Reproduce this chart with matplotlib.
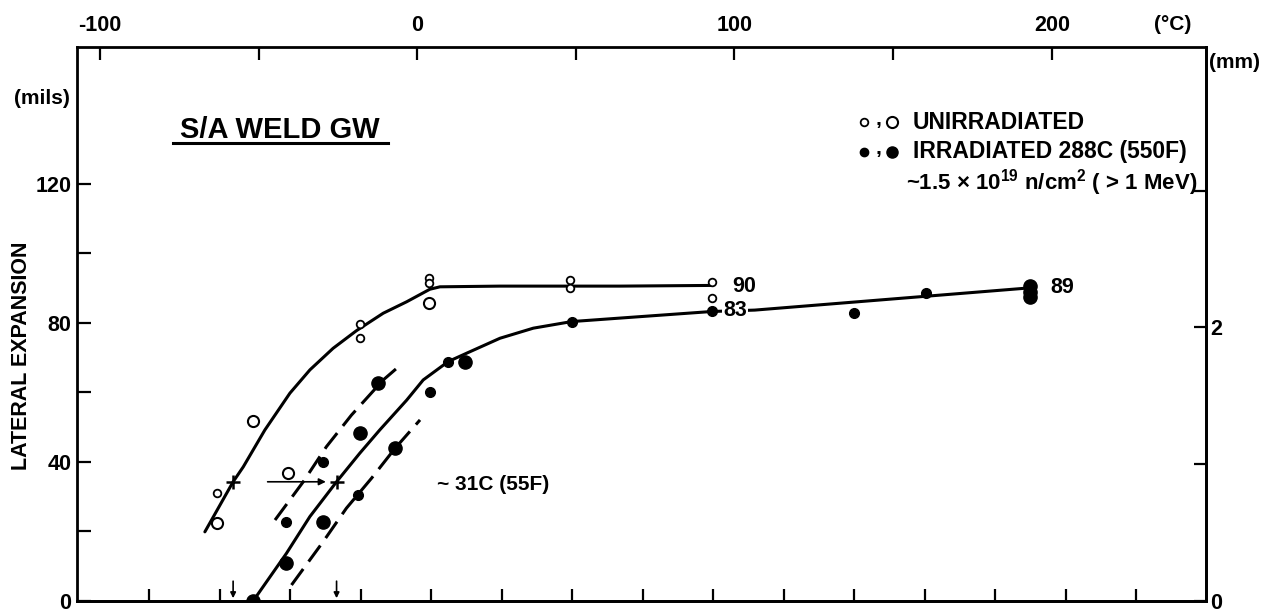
import matplotlib
matplotlib.use('Agg')
import matplotlib.pyplot as plt
import numpy as np

plt.rcParams['font.family'] = ['Liberation Sans', 'DejaVu Sans']
plt.rcParams['font.weight'] = 'bold'
plt.rcParams['mathtext.fontset'] = 'custom'
plt.rcParams['mathtext.rm'] = 'Liberation Sans:bold'
plt.rcParams['mathtext.default'] = 'rm'

# unirradiated data (temperature C, lateral expansion mils)
unirr_small_t = [-63.2, -18.1, -18.1, 3.8, 3.8, 48.3, 48.3, 92.9, 92.9]
unirr_small_v = [31.2, 79.6, 75.8, 92.9, 91.4, 92.4, 90.0, 91.8, 87.2]
unirr_large_t = [-63.2, -51.7, -40.7, 3.8]
unirr_large_v = [22.4, 51.9, 36.7, 85.7]

# irradiated data
irr_small_t = [-41.2, -29.6, -18.6, 4.2, 9.8, 48.7, 92.9, 137.6, 160.3]
irr_small_v = [22.8, 40.1, 30.5, 60.2, 68.9, 80.4, 83.5, 83.0, 88.5]
irr_large_t = [-51.7, -41.2, -29.6, -18.1, -12.3, -7.0, 15.0, 193.1, 193.1, 193.1]
irr_large_v = [0.1, 10.8, 22.8, 48.3, 62.6, 43.9, 68.9, 90.5, 89.0, 87.6]

# fitted curves
unirr_curve_t = [-66.9, -58.0, -54.8, -48.0, -40.1, -33.8, -26.5, -19.1, -10.7, -3.3,
                 4.0, 7.2, 26.1, 63.9, 92.9]
unirr_curve_v = [19.9, 34.3, 38.6, 49.2, 59.8, 66.5, 72.7, 77.8, 82.8, 86.1,
                 89.7, 90.4, 90.6, 90.6, 90.8]
irr_curve_t = [-51.7, -41.2, -33.8, -25.4, -18.1, -11.8, -3.3, 1.9, 9.8, 15.6, 26.1,
               36.6, 48.7, 63.9, 92.9, 106.4, 193.1]
irr_curve_v = [0.0, 13.7, 24.3, 34.3, 42.5, 49.2, 57.8, 63.6, 68.9, 71.3, 75.6,
               78.5, 80.4, 81.4, 83.3, 83.7, 90.1]

# scatter band (dashed)
band_upper_t = [-44.8, -35.9, -28.6, -20.7, -10.7, -6.0]
band_upper_v = [23.3, 34.3, 44.4, 53.5, 63.6, 67.3]
band_lower_t = [-39.6, -29.6, -22.3, -14.4, -7.0, 0.9]
band_lower_v = [4.6, 17.1, 26.7, 35.3, 43.9, 52.1]

# 35 mil transition temperatures
trans_t = [-58.0, -25.4]
trans_v = [34.3, 34.3]

# upper shelf labels
shelf_t = [103.0, 100.1, 203.3]
shelf_v = [90.4, 83.5, 90.1]
shelf_labels = ['90', '83', '89']

fig = plt.figure(figsize=(12.8, 6.14), dpi=100)
ax = fig.add_axes([77 / 1280, 1 - 601 / 614, (1206 - 77) / 1280, (601 - 47) / 614])
ax.set_xlim(-107.2, 248.6)
ax.set_ylim(0, 159.4)

# curves
ax.plot(unirr_curve_t, unirr_curve_v, color='k', lw=2.2, solid_joinstyle='round', solid_capstyle='round')
ax.plot(irr_curve_t, irr_curve_v, color='k', lw=2.2, solid_joinstyle='round', solid_capstyle='round')
ax.plot(band_upper_t, band_upper_v, color='k', lw=2.2, dashes=(6.5, 3))
ax.plot(band_lower_t, band_lower_v, color='k', lw=2.2, dashes=(6.5, 3))

# points
ax.plot(unirr_small_t, unirr_small_v, 'o', ms=5.5, mfc='white', mec='k', mew=1.3, zorder=5)
ax.plot(unirr_large_t, unirr_large_v, 'o', ms=8, mfc='white', mec='k', mew=1.5, zorder=5)
ax.plot(irr_small_t, irr_small_v, 'o', ms=7, color='k', zorder=5)
ax.plot(irr_large_t, irr_large_v, 'o', ms=9.5, color='k', zorder=5)
ax.plot(trans_t, trans_v, '+', ms=10, mew=1.8, color='k', zorder=6)

# shift arrow and transition markers
ax.annotate('', xy=(trans_t[1] - 2.5, trans_v[1]), xytext=(-48.0, trans_v[1]),
            arrowprops=dict(arrowstyle='-|>', lw=1.2, color='k', mutation_scale=10))
for t in trans_t:
    ax.annotate('', xy=(t, 0), xytext=(t, 6.5),
                arrowprops=dict(arrowstyle='-|>', lw=1.2, color='k', mutation_scale=8))
ax.text(6.2, 33.4, '~ 31C (55F)', fontsize=15, va='center', ha='left')

for t, v, s in zip(shelf_t, shelf_v, shelf_labels):
    ax.text(t, v, s, fontsize=15.5, ha='center', va='center', zorder=7,
            bbox=dict(facecolor='white', edgecolor='none', pad=1))

# title
ax.text(0.180, 0.850, 'S/A WELD GW', transform=ax.transAxes, fontsize=21,
        ha='center', va='center')
ax.plot([0.085, 0.2755], [0.8267, 0.8267], color='k', lw=2.2, transform=ax.transAxes)

# legend
ax.plot([0.697], [0.8646], 'o', ms=5.5, mfc='white', mec='k', mew=1.3, transform=ax.transAxes, clip_on=False)
ax.plot([0.722], [0.8646], 'o', ms=8, mfc='white', mec='k', mew=1.5, transform=ax.transAxes, clip_on=False)
ax.plot([0.697], [0.8105], 'o', ms=6, color='k', transform=ax.transAxes, clip_on=False)
ax.plot([0.722], [0.8105], 'o', ms=8, color='k', transform=ax.transAxes, clip_on=False)
ax.text(0.7095, 0.8592, ',', transform=ax.transAxes, fontsize=15, ha='center', va='baseline')
ax.text(0.7095, 0.8070, ',', transform=ax.transAxes, fontsize=15, ha='center', va='baseline')
ax.text(0.7405, 0.8646, 'UNIRRADIATED', transform=ax.transAxes, fontsize=16.5, va='center')
ax.text(0.7405, 0.8105, 'IRRADIATED 288C (550F)', transform=ax.transAxes, fontsize=16.5, va='center')
ax.text(0.992, 0.7545, r'~1.5 × 10$^{19}$ n/cm$^{2}$ ( > 1 MeV)', transform=ax.transAxes,
        fontsize=16, va='center', ha='right')

# top axis: temperature C
ax.xaxis.tick_top()
ax.set_xticks([-100, -50, 0, 50, 100, 150, 200])
ax.set_xticklabels(['-100', '', '0', '', '100', '', '200'])
ax.tick_params(axis='x', which='both', direction='in', length=9, width=1.6,
               labelsize=15.5, pad=8, bottom=False, labelbottom=False)

# bottom axis: temperature F (unlabelled ticks)
secx = ax.secondary_xaxis('bottom', functions=(lambda c: c * 9 / 5 + 32, lambda f: (f - 32) * 5 / 9))
secx.set_xticks(np.arange(-120, 481, 40))
secx.set_xticklabels([])
secx.tick_params(direction='in', length=9, width=1.6)
secx.spines['bottom'].set_linewidth(2)

# left axis: mils
ax.set_yticks([0, 20, 40, 60, 80, 100, 120])
ax.set_yticklabels(['0', '', '40', '', '80', '', '120'])
ax.tick_params(axis='y', direction='in', length=10, width=1.6, labelsize=15.5, pad=4,
               right=False)

# right axis: mm
secy = ax.secondary_yaxis('right', functions=(lambda m: m * 0.0254, lambda mm: mm / 0.0254))
secy.set_yticks([0, 1, 2, 3])
secy.set_yticklabels(['0', '', '2', ''])
secy.tick_params(direction='in', length=9, width=1.6, labelsize=15.5, pad=3)
secy.spines['right'].set_linewidth(2)

for sp in ax.spines.values():
    sp.set_linewidth(2)

# unit labels
fig.text(1173 / 1280, 1 - 25 / 614, '(°C)', fontsize=15, ha='center', va='center')
fig.text(1209 / 1280, 1 - 62 / 614, '(mm)', fontsize=15, ha='left', va='center')
fig.text(41.5 / 1280, 1 - 98 / 614, '(mils)', fontsize=15, ha='center', va='center')
fig.text(21.5 / 1280, 1 - 356 / 614, 'LATERAL EXPANSION', fontsize=15.5, rotation=90,
         ha='center', va='center')

plt.savefig('out.png', dpi=100)
